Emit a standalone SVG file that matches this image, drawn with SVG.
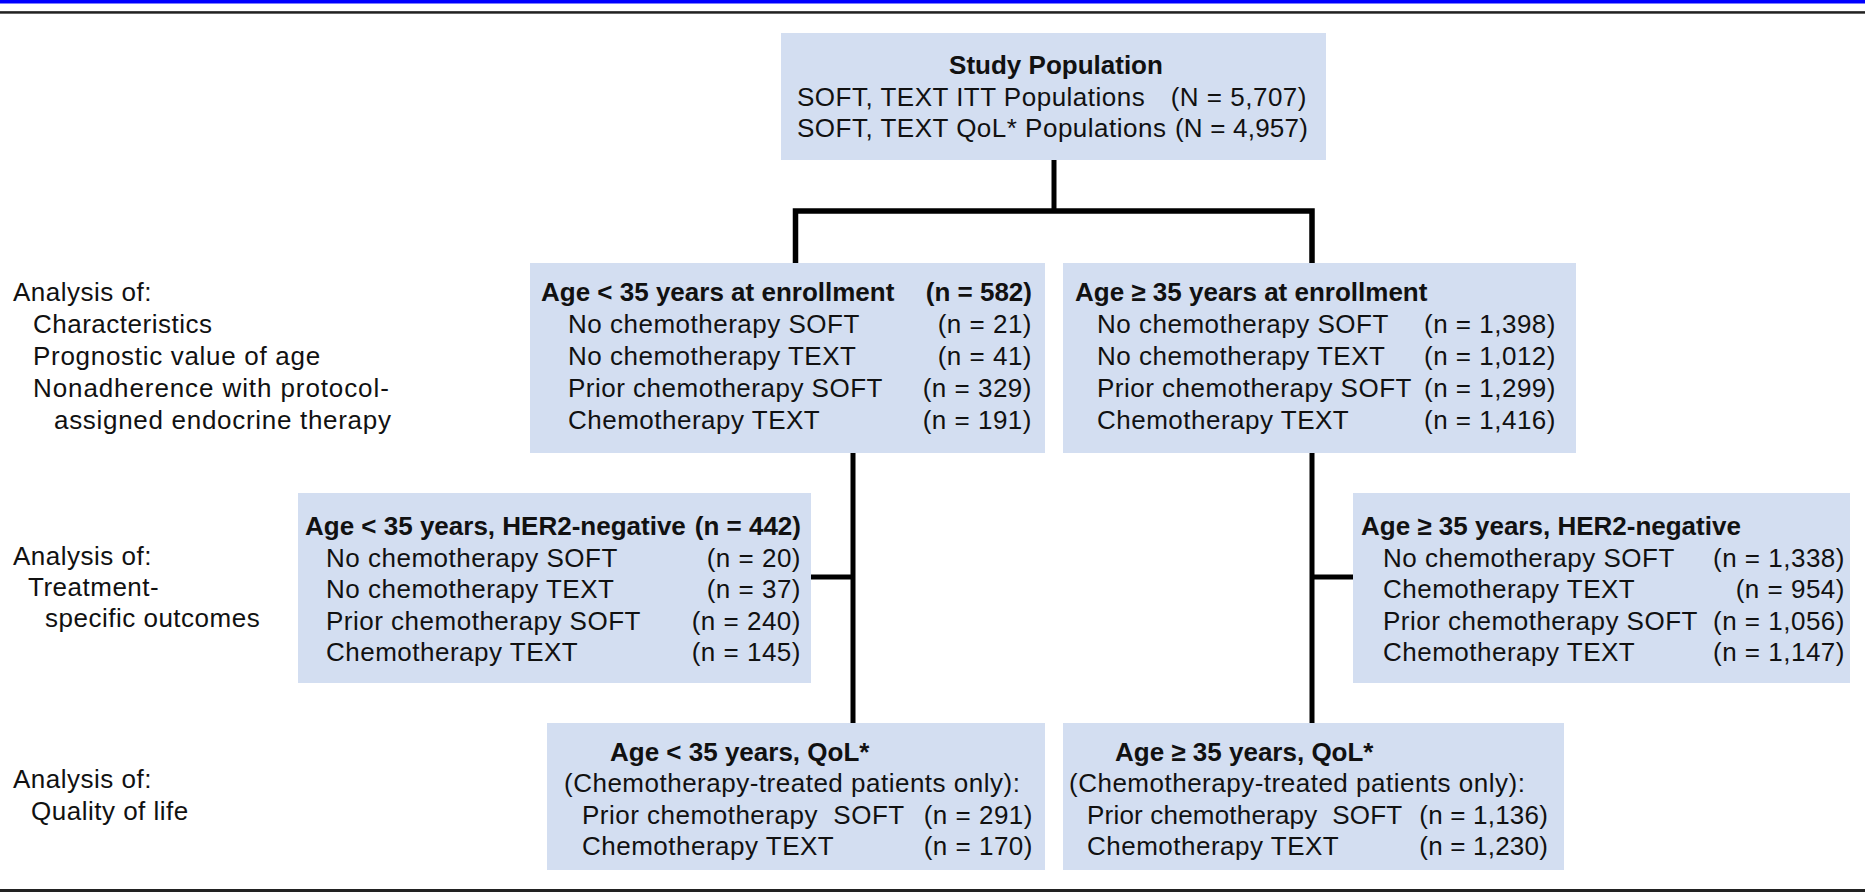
<svg xmlns="http://www.w3.org/2000/svg" width="1865" height="893" viewBox="0 0 1865 893">
<style>
.box{fill:#D3DEF1}
.t{font-family:"Liberation Sans",Arial,sans-serif;font-size:26px;letter-spacing:0.5px;fill:#111}
.b{font-weight:bold;letter-spacing:0}
.r{text-anchor:end}
.c{text-anchor:middle}
.pre{white-space:pre}
.conn{stroke:#000;stroke-width:5;fill:none;stroke-linecap:butt;stroke-linejoin:miter}
</style>
<rect x="0" y="0" width="1865" height="3.5" fill="#0000FF"/>
<rect x="0" y="11" width="1865" height="3" fill="#666"/>
<rect x="0" y="11.5" width="1865" height="1.5" fill="#222"/>
<rect x="0" y="889" width="1865" height="3" fill="#222"/>

<g id="connectors">
<path class="conn" d="M1054 160 V211"/>
<path class="conn" d="M795.5 263 V211 H1312 V263" style="stroke-width:5.5"/>
<path class="conn" d="M853 453 V723"/>
<path class="conn" d="M811 577 H853"/>
<path class="conn" d="M1312 453 V723"/>
<path class="conn" d="M1312 577 H1353"/>
</g>

<g id="study-population">
<rect class="box" x="781" y="33" width="545" height="127"/>
<text class="t b c" x="1056" y="74">Study Population</text>
<text class="t" x="797" y="106">SOFT, TEXT ITT Populations</text>
<text class="t r" x="1307" y="106">(N = 5,707)</text>
<text class="t" x="797" y="137">SOFT, TEXT QoL* Populations</text>
<text class="t r" x="1308" y="137" style="letter-spacing:0.2px">(N = 4,957)</text>
</g>

<g id="label-characteristics">
<text class="t" x="13" y="301">Analysis of:</text>
<text class="t" x="33" y="333">Characteristics</text>
<text class="t" x="33" y="365" style="letter-spacing:0.7px">Prognostic value of age</text>
<text class="t" x="33" y="397" style="letter-spacing:0.9px">Nonadherence with protocol-</text>
<text class="t" x="54" y="429" style="letter-spacing:0.7px">assigned endocrine therapy</text>
</g>

<g id="age-lt35">
<rect class="box" x="530" y="263" width="515" height="190"/>
<text class="t b" x="541" y="301">Age &lt; 35 years at enrollment</text>
<text class="t b r" x="1032" y="301">(n = 582)</text>
<text class="t" x="568" y="333">No chemotherapy SOFT</text>
<text class="t r" x="1032" y="333">(n = 21)</text>
<text class="t" x="568" y="365">No chemotherapy TEXT</text>
<text class="t r" x="1032" y="365">(n = 41)</text>
<text class="t" x="568" y="397">Prior chemotherapy SOFT</text>
<text class="t r" x="1032" y="397">(n = 329)</text>
<text class="t" x="568" y="429">Chemotherapy TEXT</text>
<text class="t r" x="1032" y="429">(n = 191)</text>
</g>

<g id="age-ge35">
<rect class="box" x="1063" y="263" width="513" height="190"/>
<text class="t b" x="1075" y="301">Age ≥ 35 years at enrollment</text>
<text class="t" x="1097" y="333">No chemotherapy SOFT</text>
<text class="t r" x="1556" y="333">(n = 1,398)</text>
<text class="t" x="1097" y="365">No chemotherapy TEXT</text>
<text class="t r" x="1556" y="365">(n = 1,012)</text>
<text class="t" x="1097" y="397">Prior chemotherapy SOFT</text>
<text class="t r" x="1556" y="397">(n = 1,299)</text>
<text class="t" x="1097" y="429">Chemotherapy TEXT</text>
<text class="t r" x="1556" y="429">(n = 1,416)</text>
</g>

<g id="label-treatment">
<text class="t" x="13" y="565">Analysis of:</text>
<text class="t" x="28" y="596">Treatment-</text>
<text class="t" x="45" y="627">specific outcomes</text>
</g>

<g id="age-lt35-her2">
<rect class="box" x="298" y="493" width="513" height="190"/>
<text class="t b" x="305" y="535">Age &lt; 35 years, HER2-negative</text>
<text class="t b r" x="801" y="535">(n = 442)</text>
<text class="t" x="326" y="567">No chemotherapy SOFT</text>
<text class="t r" x="801" y="567">(n = 20)</text>
<text class="t" x="326" y="598">No chemotherapy TEXT</text>
<text class="t r" x="801" y="598">(n = 37)</text>
<text class="t" x="326" y="630">Prior chemotherapy SOFT</text>
<text class="t r" x="801" y="630">(n = 240)</text>
<text class="t" x="326" y="661">Chemotherapy TEXT</text>
<text class="t r" x="801" y="661">(n = 145)</text>
</g>

<g id="age-ge35-her2">
<rect class="box" x="1353" y="493" width="497" height="190"/>
<text class="t b" x="1361" y="535">Age ≥ 35 years, HER2-negative</text>
<text class="t" x="1383" y="567">No chemotherapy SOFT</text>
<text class="t r" x="1845" y="567">(n = 1,338)</text>
<text class="t" x="1383" y="598">Chemotherapy TEXT</text>
<text class="t r" x="1845" y="598">(n = 954)</text>
<text class="t" x="1383" y="630">Prior chemotherapy SOFT</text>
<text class="t r" x="1845" y="630">(n = 1,056)</text>
<text class="t" x="1383" y="661">Chemotherapy TEXT</text>
<text class="t r" x="1845" y="661">(n = 1,147)</text>
</g>

<g id="label-qol">
<text class="t" x="13" y="788">Analysis of:</text>
<text class="t" x="31" y="820">Quality of life</text>
</g>

<g id="age-lt35-qol">
<rect class="box" x="547" y="723" width="498" height="147"/>
<text class="t b" x="610" y="761">Age &lt; 35 years, QoL*</text>
<text class="t" x="564" y="792">(Chemotherapy-treated patients only):</text>
<text class="t pre" x="582" y="824">Prior chemotherapy  SOFT</text>
<text class="t r" x="1033" y="824">(n = 291)</text>
<text class="t" x="582" y="855">Chemotherapy TEXT</text>
<text class="t r" x="1033" y="855">(n = 170)</text>
</g>

<g id="age-ge35-qol">
<rect class="box" x="1063" y="723" width="501" height="147"/>
<text class="t b" x="1115" y="761">Age ≥ 35 years, QoL*</text>
<text class="t" x="1069" y="792">(Chemotherapy-treated patients only):</text>
<text class="t pre" x="1087" y="824" style="letter-spacing:0.2px">Prior chemotherapy  SOFT</text>
<text class="t r" x="1548" y="824" style="letter-spacing:0.2px">(n = 1,136)</text>
<text class="t" x="1087" y="855">Chemotherapy TEXT</text>
<text class="t r" x="1548" y="855" style="letter-spacing:0.2px">(n = 1,230)</text>
</g>
</svg>
